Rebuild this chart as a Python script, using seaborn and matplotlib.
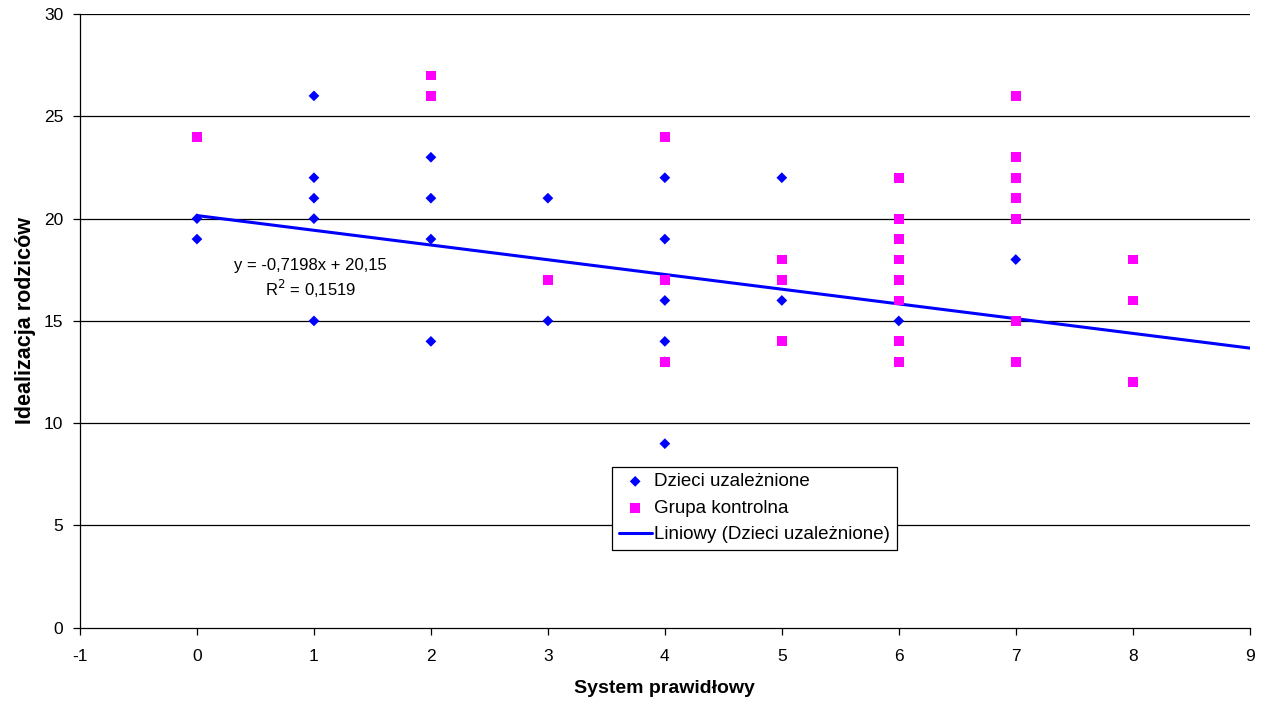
import numpy as np
import pandas as pd
import matplotlib
matplotlib.use("Agg")
import matplotlib.pyplot as plt
import seaborn as sns

# Dzieci uzaleznione (blue diamonds)
addicted_x = [0, 0, 1, 1, 1, 1, 1, 2, 2, 2, 2, 3, 3, 4, 4, 4, 4, 4, 4, 4, 5, 5, 6, 7]
addicted_y = [20, 19, 26, 22, 21, 20, 15, 23, 21, 19, 14, 21, 15, 22, 19, 17, 16, 14, 13, 9, 22, 16, 15, 18]

# Grupa kontrolna (pink squares)
control_x = [0, 2, 2, 3, 4, 4, 4, 5, 5, 5, 6, 6, 6, 6, 6, 6, 6, 6, 7, 7, 7, 7, 7, 7, 7, 8, 8, 8]
control_y = [24, 27, 26, 17, 24, 17, 13, 18, 17, 14, 22, 20, 19, 18, 17, 16, 14, 13, 26, 23, 22, 21, 20, 15, 13, 18, 16, 12]

# trend line as reported in the chart
slope = -0.7198
intercept = 20.15
r2 = 0.1519
trend_x = [0, 9]

sns.set_theme(style="white")
plt.rcParams['font.family'] = ['Liberation Sans', 'DejaVu Sans']
plt.rcParams['axes.unicode_minus'] = False
plt.rcParams['text.color'] = 'black'
plt.rcParams['axes.labelcolor'] = 'black'
plt.rcParams['xtick.color'] = 'black'
plt.rcParams['ytick.color'] = 'black'

fig, ax = plt.subplots(figsize=(12.7, 7.03), dpi=100)
fig.subplots_adjust(left=0.063, right=0.984, top=0.980, bottom=0.107)

for y in [5, 10, 15, 20, 25, 30]:
    ax.axhline(y, color='black', lw=0.9, zorder=0)

trend_y = [slope * v + intercept for v in trend_x]
sns.lineplot(x=trend_x, y=trend_y, color='#0000FF', lw=2.2, ax=ax, zorder=2,
             label='Liniowy (Dzieci uzależnione)')
sns.scatterplot(x=addicted_x, y=addicted_y, marker='D', color='#0000FF', s=30,
                edgecolor='none', ax=ax, zorder=3, label='Dzieci uzależnione')
sns.scatterplot(x=control_x, y=control_y, marker='s', color='#FF00FF', s=50,
                edgecolor='none', ax=ax, zorder=4, label='Grupa kontrolna')

ax.set_xlim(-1, 9)
ax.set_ylim(0, 30)
ax.set_xticks(range(-1, 10))
ax.set_yticks(range(0, 31, 5))
ax.tick_params(axis='both', labelsize=12.5, length=5, width=0.9, color='black',
               labelcolor='black', direction='out', bottom=True, left=True)
ax.tick_params(axis='x', pad=10)
ax.tick_params(axis='y', pad=7)

for side in ['top', 'right']:
    ax.spines[side].set_visible(False)
for side in ['left', 'bottom']:
    ax.spines[side].set_color('black')
    ax.spines[side].set_linewidth(0.9)

ax.set_xlabel('System prawidłowy', fontsize=14, fontweight='bold', labelpad=12, color='black')
ax.set_ylabel('Idealizacja rodziców', fontsize=15.5, fontweight='bold', labelpad=6, color='black')

ax.text(0.97, 17.05, 'y = -0,7198x + 20,15\nR$^2$ = 0,1519', ha='center', va='center',
        fontsize=12, linespacing=1.3, color='black')

handles, labels = ax.get_legend_handles_labels()
order = [labels.index('Dzieci uzależnione'), labels.index('Grupa kontrolna'),
         labels.index('Liniowy (Dzieci uzależnione)')]
leg = ax.legend([handles[i] for i in order], [labels[i] for i in order],
                loc='lower left', bbox_to_anchor=(0.455, 0.127), fontsize=13.5,
                frameon=True, fancybox=False, edgecolor='black', framealpha=1,
                borderpad=0.35, labelspacing=0.5, handlelength=1.75, handletextpad=0.15,
                borderaxespad=0)
leg.get_frame().set_linewidth(0.9)
for t in leg.get_texts():
    t.set_color('black')

fig.savefig('out.png', dpi=100)
